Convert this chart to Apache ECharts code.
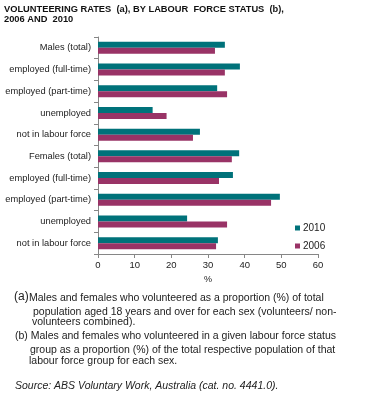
<!DOCTYPE html>
<html><head><meta charset="utf-8">
<script src="https://cdn.jsdelivr.net/npm/echarts@6/dist/echarts.min.js"></script>
<style>html,body{margin:0;padding:0;background:#fff}#c{width:370px;height:418px}</style>
</head><body><div id="c"></div>
<script>
const categories = ['Males (total)','employed (full-time)','employed (part-time)','unemployed','not in labour force','Females (total)','employed (full-time)','employed (part-time)','unemployed','not in labour force'];
const values2010 = [34.6, 38.7, 32.5, 14.9, 27.8, 38.5, 36.8, 49.6, 24.3, 32.7];
const values2006 = [31.9, 34.6, 35.2, 18.7, 25.9, 36.5, 33.0, 47.2, 35.2, 32.2];
const xTicks = [0, 10, 20, 30, 40, 50, 60];

const font = '"Liberation Sans", Arial, sans-serif';
const chart = echarts.init(document.getElementById('c'), null, {renderer: 'canvas'});
const noteStyle = {fontFamily: font, fontSize: 10.5, fill: '#222'};
chart.setOption({
  animation: false,
  backgroundColor: '#fff',
  grid: {left: 98, right: 52, top: 37, bottom: 164, containLabel: false},
  legend: {
    data: ['2010', '2006'], orient: 'vertical', left: 290, top: 218,
    itemWidth: 5, itemHeight: 5, itemGap: 8, icon: 'rect',
    textStyle: {fontFamily: font, fontSize: 10, color: '#222', padding: [0,0,0,-2]}
  },
  xAxis: {
    type: 'value', min: 0, max: 60, interval: 10,
    name: '%', nameLocation: 'middle', nameGap: 20,
    nameTextStyle: {fontFamily: font, fontSize: 9, color: '#222'},
    axisLine: {show: true, lineStyle: {color: '#868686'}},
    axisTick: {show: true, length: 4, lineStyle: {color: '#868686'}},
    axisLabel: {fontFamily: font, fontSize: 9.5, color: '#222', margin: 6,
      formatter: v => xTicks.includes(v) ? String(v) : ''},
    splitLine: {show: false}
  },
  yAxis: {
    type: 'category', data: categories, inverse: true,
    axisLine: {show: true, lineStyle: {color: '#868686'}},
    axisTick: {show: true, length: 4, lineStyle: {color: '#868686'}},
    axisLabel: {fontFamily: font, fontSize: 9.3, color: '#222', margin: 7}
  },
  series: [
    {name: '2010', type: 'bar', data: values2010, barWidth: 6, barGap: '0%', itemStyle: {color: '#00727A'}},
    {name: '2006', type: 'bar', data: values2006, barWidth: 6, barGap: '0%', itemStyle: {color: '#993366'}}
  ],
  graphic: [
    {type: 'text', left: 4, top: 4, style: {text: 'VOLUNTEERING RATES  (a), BY LABOUR  FORCE STATUS  (b),\n2006 AND  2010', fontFamily: font, fontSize: 9.3, fontWeight: 'bold', fill: '#111', lineHeight: 10}},
    {type: 'text', left: 14, top: 291, style: {text: '(a)', fontFamily: font, fontSize: 12, fill: '#222'}},
    {type: 'text', left: 29, top: 293, style: Object.assign({text: 'Males and females who volunteered as a proportion (%) of total'}, noteStyle)},
    {type: 'text', left: 33, top: 307, style: Object.assign({text: 'population aged 18 years and over for each sex (volunteers/ non-'}, noteStyle)},
    {type: 'text', left: 32, top: 317, style: Object.assign({text: 'volunteers combined).'}, noteStyle)},
    {type: 'text', left: 15, top: 331, style: Object.assign({text: '(b) Males and females who volunteered in a given labour force status'}, noteStyle)},
    {type: 'text', left: 30, top: 345, style: Object.assign({text: 'group as a proportion (%) of the total respective population of that'}, noteStyle)},
    {type: 'text', left: 29, top: 356, style: Object.assign({text: 'labour force group for each sex.'}, noteStyle)},
    {type: 'text', left: 15, top: 381, style: Object.assign({text: 'Source: ABS Voluntary Work, Australia (cat. no. 4441.0).', fontStyle: 'italic'}, noteStyle)}
  ]
});
</script></body></html>
